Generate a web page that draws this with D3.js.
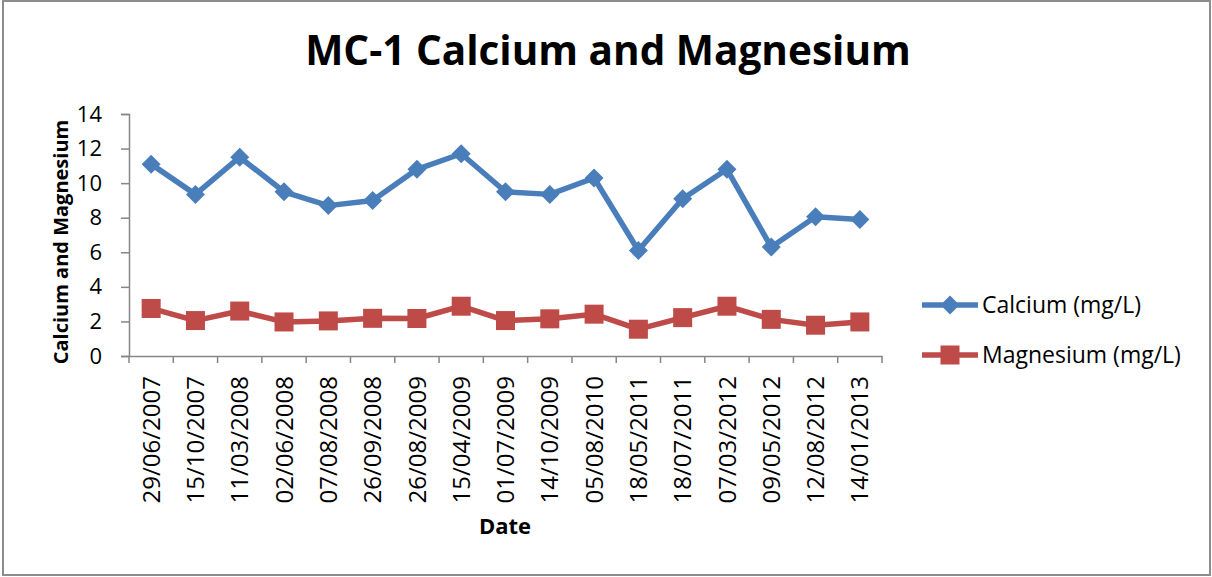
<!DOCTYPE html>
<html>
<head>
<meta charset="utf-8">
<script src="https://cdn.jsdelivr.net/npm/d3@7"></script>
<style>
  html, body { margin: 0; padding: 0; background: #fff; }
  svg { display: block; }
  text { font-family: "Open Sans", "Noto Sans", sans-serif; fill: #000; }
</style>
</head>
<body>
<svg id="chart" width="1212" height="577"></svg>
<script>
const dates = ["29/06/2007","15/10/2007","11/03/2008","02/06/2008","07/08/2008","26/09/2008","26/08/2009","15/04/2009","01/07/2009","14/10/2009","05/08/2010","18/05/2011","18/07/2011","07/03/2012","09/05/2012","12/08/2012","14/01/2013"];
const calcium = [11.1, 9.35, 11.5, 9.5, 8.7, 9.0, 10.8, 11.7, 9.5, 9.35, 10.3, 6.1, 9.1, 10.8, 6.3, 8.05, 7.9];
const magnesium = [2.75, 2.05, 2.6, 1.97, 2.03, 2.18, 2.17, 2.88, 2.05, 2.15, 2.42, 1.55, 2.22, 2.88, 2.12, 1.78, 1.97];
const yTicks = [0, 2, 4, 6, 8, 10, 12, 14];
const seriesNames = ["Calcium (mg/L)", "Magnesium (mg/L)"];
const seriesColors = ["#4A7EBB", "#BE4B48"];
const titleText = "MC-1 Calcium and Magnesium";
const yLabel = "Calcium and Magnesium";
const xLabel = "Date";

const svg = d3.select("#chart");
const W = 1212, H = 577;
const plot = {left: 129, right: 882, top: 114, bottom: 356};
const axisColor = "#868686";

// outer border
svg.append("rect").attr("x", 3).attr("y", 1).attr("width", W - 5).attr("height", H - 3)
  .attr("fill", "#fff").attr("stroke", "#8c8c8c").attr("stroke-width", 2);

const x = d3.scaleBand().domain(dates).range([plot.left, plot.right]).paddingInner(0).paddingOuter(0);
const y = d3.scaleLinear().domain([0, 14]).range([plot.bottom, plot.top]);

// y axis
const yAxis = svg.append("g").attr("transform", `translate(${plot.left},0)`)
  .call(d3.axisLeft(y).tickValues(yTicks).tickSize(8).tickPadding(19).tickFormat(d3.format("d")));
yAxis.select(".domain").attr("stroke", axisColor).attr("stroke-width", 1.5);
yAxis.selectAll(".tick line").attr("stroke", axisColor).attr("stroke-width", 1.5);
yAxis.selectAll(".tick text").attr("font-size", 22).attr("font-family", "Open Sans").attr("fill", "#000");

// x axis
const xAxis = svg.append("g").attr("transform", `translate(0,${plot.bottom})`)
  .call(d3.axisBottom(x).tickSize(0).tickFormat(d => d));
xAxis.select(".domain").attr("stroke", axisColor).attr("stroke-width", 1.5);
// category boundary ticks
const bounds = dates.map(d => x(d)).concat([x(dates[dates.length - 1]) + x.bandwidth()]);
xAxis.selectAll(".bt").data(bounds).enter().append("line")
  .attr("x1", d => d).attr("x2", d => d).attr("y1", 0).attr("y2", 7)
  .attr("stroke", axisColor).attr("stroke-width", 1.5);
xAxis.selectAll(".tick text")
  .attr("font-size", 24).attr("font-family", "Open Sans").attr("fill", "#000")
  .attr("text-anchor", "end")
  .attr("transform", "translate(0,20) rotate(-90)")
  .attr("x", 0).attr("y", 0).attr("dy", "0.36em");

const cx = d => x(d) + x.bandwidth() / 2;
const line = d3.line().x(d => cx(d.date)).y(d => y(d.v));

const series = [calcium, magnesium].map((arr, i) => dates.map((d, j) => ({date: d, v: arr[j]})));

series.forEach((s, i) => {
  svg.append("path").datum(s).attr("d", line).attr("fill", "none")
    .attr("stroke", seriesColors[i]).attr("stroke-width", 5.5).attr("stroke-linejoin", "round");
});

// markers
const diamond = (g, px, py, r, color) => g.append("path")
  .attr("d", `M${px},${py - r}L${px + r},${py}L${px},${py + r}L${px - r},${py}Z`)
  .attr("fill", color);
const square = (g, px, py, s, color) => g.append("rect")
  .attr("x", px - s / 2).attr("y", py - s / 2).attr("width", s).attr("height", s).attr("fill", color);

const mk = svg.append("g");
series[0].forEach(d => diamond(mk, cx(d.date), y(d.v), 9.5, seriesColors[0]));
series[1].forEach(d => square(mk, cx(d.date), y(d.v), 19, seriesColors[1]));

// title
svg.append("text").attr("x", 608).attr("y", 65).attr("text-anchor", "middle")
  .attr("font-size", 40.5).attr("font-weight", "bold").text(titleText);

// y label
svg.append("text").attr("transform", `translate(68,${(plot.top + plot.bottom) / 2 + 7}) rotate(-90)`)
  .attr("text-anchor", "middle").attr("font-size", 20).attr("font-weight", "bold").text(yLabel);

// x label
svg.append("text").attr("x", 505).attr("y", 534).attr("text-anchor", "middle")
  .attr("font-size", 22).attr("font-weight", "bold").text(xLabel);

// legend
const legY = [305, 355];
seriesNames.forEach((name, i) => {
  const g = svg.append("g");
  g.append("line").attr("x1", 922).attr("x2", 978).attr("y1", legY[i]).attr("y2", legY[i])
    .attr("stroke", seriesColors[i]).attr("stroke-width", 5.5);
  if (i === 0) diamond(g, 950, legY[i], 9.5, seriesColors[i]);
  else square(g, 950, legY[i], 19, seriesColors[i]);
  g.append("text").attr("x", 982).attr("y", legY[i]).attr("dy", "0.36em")
    .attr("font-size", 23).text(name);
});
</script>
</body>
</html>
